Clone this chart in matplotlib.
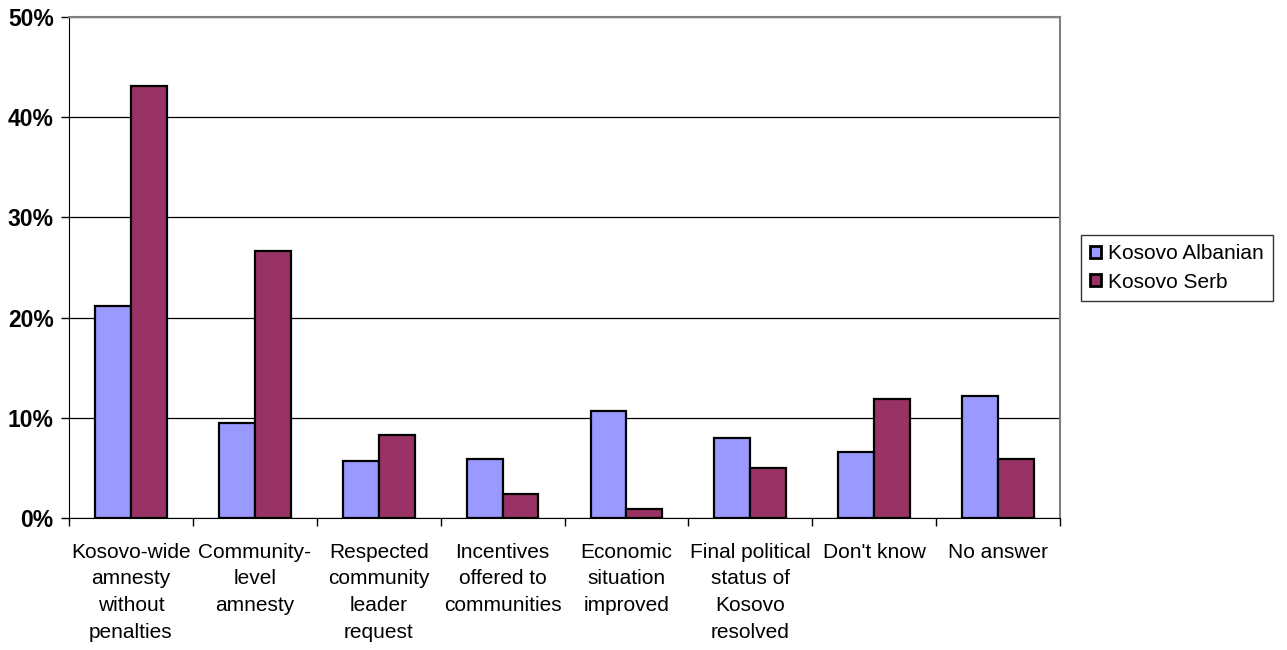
import numpy as np
import matplotlib.pyplot as plt
from matplotlib.ticker import FuncFormatter

plt.rcParams['font.family'] = ['Liberation Sans', 'DejaVu Sans']

categories = ["Kosovo-wide\namnesty\nwithout\npenalties",
              "Community-\nlevel\namnesty",
              "Respected\ncommunity\nleader\nrequest",
              "Incentives\noffered to\ncommunities",
              "Economic\nsituation\nimproved",
              "Final political\nstatus of\nKosovo\nresolved",
              "Don't know",
              "No answer"]
albanian = [21.2, 9.5, 5.7, 5.9, 10.7, 8.0, 6.6, 12.2]
serb = [43.1, 26.6, 8.3, 2.4, 0.9, 5.0, 11.9, 5.9]

ALB_COLOR = '#9999FF'
SERB_COLOR = '#993366'

fig = plt.figure(figsize=(12.87, 6.5), dpi=100)
ax = fig.add_axes([69 / 1287, 1 - 518 / 650, (1060 - 69) / 1287, (518 - 17) / 650])

x = np.arange(len(categories))
w = 0.29
ax.bar(x - w / 2, albanian, w, color=ALB_COLOR, edgecolor='black',
       linewidth=1.6, label='Kosovo Albanian', zorder=3)
ax.bar(x + w / 2, serb, w, color=SERB_COLOR, edgecolor='black',
       linewidth=1.6, label='Kosovo Serb', zorder=3)

ax.set_xlim(-0.5, len(categories) - 0.5)
ax.set_ylim(0, 50)
ax.set_yticks(np.arange(0, 51, 10))
ax.yaxis.set_major_formatter(FuncFormatter(lambda v, p: '%d%%' % v))
for lab in ax.get_yticklabels():
    lab.set_fontweight('bold')
ax.tick_params(axis='y', labelsize=16.5, length=6, width=1, direction='out', pad=5)
ax.grid(axis='y', color='black', linewidth=0.9, zorder=0)

# category boundaries carry the ticks, labels sit in between
ax.set_xticks(np.arange(-0.5, len(categories) + 0.5, 1))
ax.set_xticklabels([])
ax.set_xticks(x, minor=True)
ax.set_xticklabels(categories, minor=True, fontsize=15, linespacing=1.5, va='top')
ax.tick_params(axis='x', which='major', length=6, width=1, direction='out')
ax.tick_params(axis='x', which='minor', length=0, pad=18)

for side in ['top', 'right']:
    ax.spines[side].set_color('#808080')
    ax.spines[side].set_linewidth(1.5)
ax.spines['left'].set_color('black')
ax.spines['bottom'].set_color('black')

leg = ax.legend(loc='center left', bbox_to_anchor=(1081 / 1287, 1 - 268 / 650),
                bbox_transform=fig.transFigure, borderaxespad=0, fontsize=15,
                frameon=True, fancybox=False, edgecolor='black',
                handlelength=0.5, handleheight=0.5, handletextpad=0.35,
                borderpad=0.45, labelspacing=0.45)
leg.get_frame().set_linewidth(1.0)
for h in leg.legend_handles:
    h.set_linewidth(2.0)

fig.savefig('out.png', dpi=100)
